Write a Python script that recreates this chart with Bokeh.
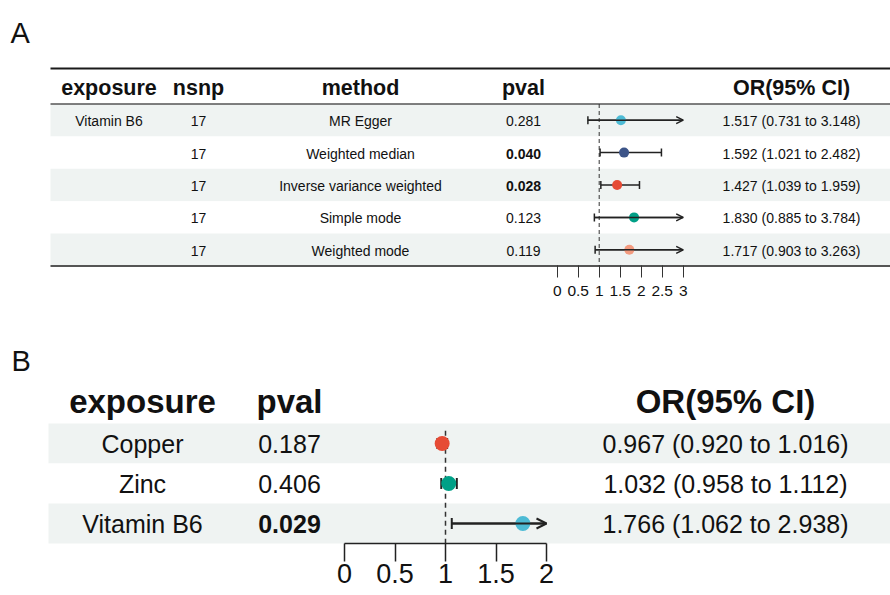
import numpy as np
from bokeh.plotting import figure
from bokeh.models import Range1d, LinearAxis, FixedTicker, ColumnDataSource, Arrow, OpenHead
from bokeh.core.properties import value, field
from bokeh.embed import file_html
from bokeh.resources import INLINE

# ---------------- Panel A data ----------------
headers_a = ["exposure", "nsnp", "method", "pval", "OR(95% CI)"]
exposure_a = ["Vitamin B6", "", "", "", ""]
nsnp_a = [17, 17, 17, 17, 17]
method_a = ["MR Egger", "Weighted median", "Inverse variance weighted",
            "Simple mode", "Weighted mode"]
pval_a = ["0.281", "0.040", "0.028", "0.123", "0.119"]
or_a = [1.517, 1.592, 1.427, 1.830, 1.717]
lo_a = [0.731, 1.021, 1.039, 0.885, 0.903]
hi_a = [3.148, 2.482, 1.959, 3.784, 3.263]
colors_a = ["#4DBBD5", "#3C5488", "#E64B35", "#00A087", "#F39B7F"]
ticks_a = [0, 0.5, 1, 1.5, 2, 2.5, 3]
tick_labels_a = ["0", "0.5", "1", "1.5", "2", "2.5", "3"]

# ---------------- Panel B data ----------------
headers_b = ["exposure", "pval", "OR(95% CI)"]
exposure_b = ["Copper", "Zinc", "Vitamin B6"]
pval_b = ["0.187", "0.406", "0.029"]
or_b = [0.967, 1.032, 1.766]
lo_b = [0.920, 0.958, 1.062]
hi_b = [1.016, 1.112, 2.938]
colors_b = ["#E64B35", "#00A087", "#4DBBD5"]
ticks_b = [0, 0.5, 1, 1.5, 2]
tick_labels_b = ["0", "0.5", "1", "1.5", "2"]

# ---------------- layout ----------------
W, H = 890, 595
SANS = "Liberation Sans"
INK = "#111111"
LINE = "#222222"

p = figure(width=W, height=H, x_range=Range1d(0, W), y_range=Range1d(H, 0),
           x_axis_type=None, y_axis_type=None, toolbar_location=None,
           output_backend="svg", min_border=0)
p.outline_line_color = None
p.background_fill_color = "white"
p.border_fill_color = "white"

# extra ranges for forest x scales and table rows
a0, ak = 556.7, 42.0
p.extra_x_ranges["orA"] = Range1d(-a0 / ak, (W - a0) / ak)
b0, bk = 344.0, 101.0
p.extra_x_ranges["orB"] = Range1d(-b0 / bk, (W - b0) / bk)
ta, ha = 103.5, 32.4
p.extra_y_ranges["rowA"] = Range1d(0.5 + (H - ta) / ha, 0.5 - ta / ha)
tb, hb = 423.0, 40.0
p.extra_y_ranges["rowB"] = Range1d(0.5 + (H - tb) / hb, 0.5 - tb / hb)

# ================= PANEL A =================
n_a = len(method_a)
rows_a = np.arange(1, n_a + 1)
shade_a = ["#eff3f2" if i % 2 == 0 else "#ffffff" for i in range(n_a)]
p.hbar(y=rows_a, height=1, left=50, right=W, fill_color=shade_a,
       line_color=None, y_range_name="rowA")

# table rules
p.segment(x0=[50], y0=[68], x1=[W], y1=[68], line_color="#1a1a1a", line_width=2.2)
p.segment(x0=[50], y0=[0.5], x1=[W], y1=[0.5], line_color="#555555",
          line_width=1.3, y_range_name="rowA")
p.segment(x0=[50], y0=[n_a + 0.5], x1=[W], y1=[n_a + 0.5], line_color="#555555",
          line_width=2, y_range_name="rowA")

cx_a = [108.5, 198, 360, 523, 791]
p.text(x=cx_a, y=[87.5] * len(headers_a), text=headers_a, text_font=value(SANS),
       text_font_style="bold", text_font_size="21.5px", text_align="center",
       text_baseline="middle", text_color=INK)

or_txt_a = [f"{o:.3f} ({l:.3f} to {h:.3f})" for o, l, h in zip(or_a, lo_a, hi_a)]
src_a = ColumnDataSource(dict(
    y=rows_a + 0.03,
    exposure=exposure_a,
    nsnp=[str(v) for v in nsnp_a],
    method=method_a,
    pval=pval_a,
    pstyle=["bold" if float(v) < 0.05 else "normal" for v in pval_a],
    ortxt=or_txt_a,
))
for cx, col in zip(cx_a, ["exposure", "nsnp", "method", "pval", "ortxt"]):
    p.text(x=cx, y="y", text=col, source=src_a, text_font=value(SANS),
           text_font_style=field("pstyle") if col == "pval" else "normal",
           text_font_size="14px", text_align="center", text_baseline="middle",
           text_color=INK, y_range_name="rowA")

# forest A
max_a = ticks_a[-1]
hi_clip_a = np.minimum(hi_a, max_a)
p.segment(x0=[1], y0=[0.5], x1=[1], y1=[n_a + 0.5], line_color="#333333", line_width=1,
          line_dash="4 3", x_range_name="orA", y_range_name="rowA")
p.segment(x0=lo_a, y0=rows_a, x1=hi_clip_a, y1=rows_a, line_color=LINE, line_width=1.5,
          x_range_name="orA", y_range_name="rowA")
p.scatter(x=lo_a, y=rows_a, marker="dash", angle=np.pi / 2, size=8, line_color=LINE,
          line_width=1.5, x_range_name="orA", y_range_name="rowA")
capm_a = np.array(hi_a) <= max_a
p.scatter(x=np.array(hi_a)[capm_a], y=rows_a[capm_a], marker="dash", angle=np.pi / 2,
          size=8, line_color=LINE, line_width=1.5, x_range_name="orA", y_range_name="rowA")
arr_a = ~capm_a
arr_src_a = ColumnDataSource(dict(x0=np.array(lo_a)[arr_a], x1=hi_clip_a[arr_a],
                                  y=rows_a[arr_a]))
p.add_layout(Arrow(end=OpenHead(size=7, line_color=LINE, line_width=1.5),
                   x_start="x0", y_start="y", x_end="x1", y_end="y", source=arr_src_a,
                   line_color=LINE, line_width=1.5, x_range_name="orA", y_range_name="rowA"))
p.scatter(x=or_a, y=rows_a, marker="circle", size=10, fill_color=colors_a, line_color=None,
          x_range_name="orA", y_range_name="rowA")

ax_a = LinearAxis(x_range_name="orA", fixed_location=265.3,
                  bounds=(ticks_a[0], ticks_a[-1]), ticker=FixedTicker(ticks=ticks_a),
                  major_label_overrides={t: l for t, l in zip(ticks_a, tick_labels_a)})
ax_a.axis_line_color = None
ax_a.major_tick_line_color = "#333333"
ax_a.major_tick_line_width = 1
ax_a.major_tick_out = 12
ax_a.major_tick_in = 0
ax_a.minor_tick_out = 0
ax_a.minor_tick_in = 0
ax_a.minor_tick_line_color = None
ax_a.major_label_text_font = SANS
ax_a.major_label_text_font_size = "15.5px"
ax_a.major_label_text_color = INK
ax_a.major_label_standoff = 8
p.add_layout(ax_a, "below")

p.text(x=[10], y=[32], text=["A"], text_font=value(SANS), text_font_size="29px",
       text_align="left", text_baseline="middle", text_color=INK)

# ================= PANEL B =================
n_b = len(exposure_b)
rows_b = np.arange(1, n_b + 1)
shade_b = ["#eff3f2" if i % 2 == 0 else "#ffffff" for i in range(n_b)]
p.hbar(y=rows_b, height=1, left=48, right=W, fill_color=shade_b,
       line_color=None, y_range_name="rowB")

cx_b = [142, 289, 725]
p.text(x=cx_b, y=[401] * len(headers_b), text=headers_b, text_font=value(SANS),
       text_font_style="bold", text_font_size="33px", text_align="center",
       text_baseline="middle", text_color=INK)

or_txt_b = [f"{o:.3f} ({l:.3f} to {h:.3f})" for o, l, h in zip(or_b, lo_b, hi_b)]
src_b = ColumnDataSource(dict(
    y=rows_b + 0.02,
    exposure=exposure_b,
    pval=pval_b,
    pstyle=["bold" if float(v) < 0.05 else "normal" for v in pval_b],
    ortxt=or_txt_b,
))
for cx, col in zip(cx_b, ["exposure", "pval", "ortxt"]):
    p.text(x=cx, y="y", text=col, source=src_b, text_font=value(SANS),
           text_font_style=field("pstyle") if col == "pval" else "normal",
           text_font_size="25px", text_align="center", text_baseline="middle",
           text_color=INK, y_range_name="rowB")

max_b = ticks_b[-1]
hi_clip_b = np.minimum(hi_b, max_b)
p.segment(x0=[1], y0=[0.68], x1=[1], y1=[n_b + 0.5], line_color="#333333", line_width=1.5,
          line_dash="5 4", x_range_name="orB", y_range_name="rowB")
p.segment(x0=lo_b, y0=rows_b, x1=hi_clip_b, y1=rows_b, line_color=LINE, line_width=2,
          x_range_name="orB", y_range_name="rowB")
p.scatter(x=lo_b, y=rows_b, marker="dash", angle=np.pi / 2, size=11, line_color=LINE,
          line_width=2, x_range_name="orB", y_range_name="rowB")
capm_b = np.array(hi_b) <= max_b
p.scatter(x=np.array(hi_b)[capm_b], y=rows_b[capm_b], marker="dash", angle=np.pi / 2,
          size=11, line_color=LINE, line_width=2, x_range_name="orB", y_range_name="rowB")
arr_b = ~capm_b
arr_src_b = ColumnDataSource(dict(x0=np.array(lo_b)[arr_b], x1=hi_clip_b[arr_b],
                                  y=rows_b[arr_b]))
p.add_layout(Arrow(end=OpenHead(size=10, line_color=LINE, line_width=2),
                   x_start="x0", y_start="y", x_end="x1", y_end="y", source=arr_src_b,
                   line_color=LINE, line_width=2, x_range_name="orB", y_range_name="rowB"))
p.scatter(x=or_b, y=rows_b, marker="circle", size=15, fill_color=colors_b, line_color=None,
          x_range_name="orB", y_range_name="rowB")

ax_b = LinearAxis(x_range_name="orB", fixed_location=543.3,
                  bounds=(ticks_b[0], ticks_b[-1]), ticker=FixedTicker(ticks=ticks_b),
                  major_label_overrides={t: l for t, l in zip(ticks_b, tick_labels_b)})
ax_b.axis_line_color = "#222222"
ax_b.axis_line_width = 1.5
ax_b.major_tick_line_color = "#222222"
ax_b.major_tick_line_width = 1.5
ax_b.major_tick_out = 18
ax_b.major_tick_in = 0
ax_b.minor_tick_out = 0
ax_b.minor_tick_in = 0
ax_b.minor_tick_line_color = None
ax_b.major_label_text_font = SANS
ax_b.major_label_text_font_size = "27px"
ax_b.major_label_text_color = INK
ax_b.major_label_standoff = 2
p.add_layout(ax_b, "below")

p.text(x=[11], y=[360], text=["B"], text_font=value(SANS), text_font_size="29px",
       text_align="left", text_baseline="middle", text_color=INK)

open("out.html", "w").write(file_html(p, INLINE))
